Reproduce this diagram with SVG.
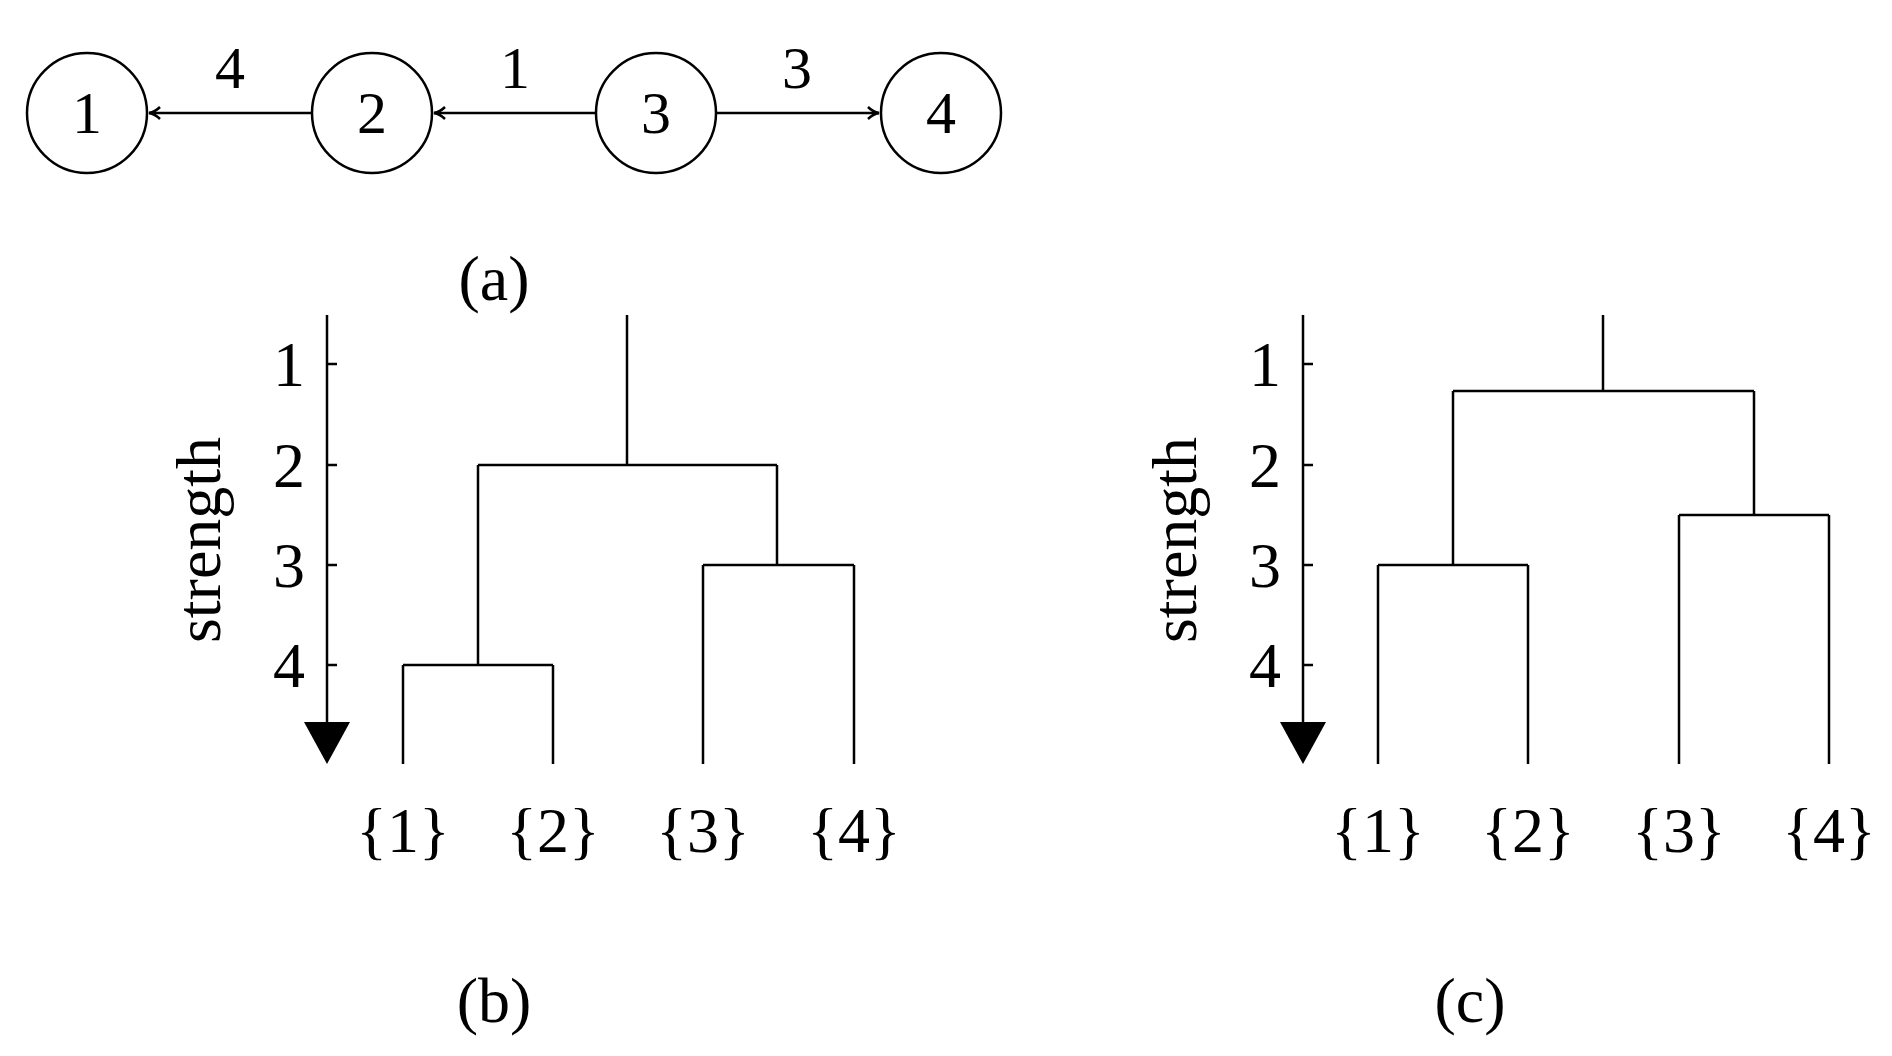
<svg xmlns="http://www.w3.org/2000/svg" width="1892" height="1056" viewBox="0 0 1892 1056">
<style>
text{font-family:"Liberation Serif",serif;fill:#000;text-anchor:middle}
.n{font-size:60px}
.l{font-size:64px}
.c{fill:#fff;stroke:#000;stroke-width:2.5}
.e{stroke:#000;stroke-width:2.5;fill:none}
</style>
<defs>
<marker id="a" markerWidth="14" markerHeight="14" refX="12" refY="7" orient="auto" markerUnits="userSpaceOnUse">
<path d="M1,1 Q6,6 12,7 Q6,8 1,13" fill="none" stroke="#000" stroke-width="2.5"/>
</marker>
</defs>
<rect width="1892" height="1056" fill="#fff"/>
<g id="edges">
<line class="e" x1="312" y1="113" x2="149" y2="113" marker-end="url(#a)"/>
<line class="e" x1="596" y1="113" x2="434" y2="113" marker-end="url(#a)"/>
<line class="e" x1="716" y1="113" x2="879" y2="113" marker-end="url(#a)"/>
<text class="n" x="230" y="88">4</text>
<text class="n" x="515" y="88">1</text>
<text class="n" x="797" y="88">3</text>
</g>
<g id="n1"><circle class="c" cx="87" cy="113" r="60"/><text class="n" x="87" y="133">1</text></g>
<g id="n2"><circle class="c" cx="372" cy="113" r="60"/><text class="n" x="372" y="133">2</text></g>
<g id="n3"><circle class="c" cx="656" cy="113" r="60"/><text class="n" x="656" y="133">3</text></g>
<g id="n4"><circle class="c" cx="941" cy="113" r="60"/><text class="n" x="941" y="133">4</text></g>
<text class="l" x="494" y="300">(a)</text>
<g id="axisB">
<line class="e" x1="327" y1="315" x2="327" y2="725"/>
<path d="M304,722 L350,722 L327,764 Z"/>
<path class="e" d="M327,364h10M327,465h10M327,565h10M327,665h10"/>
<text class="l" x="289" y="386">1</text><text class="l" x="289" y="487">2</text><text class="l" x="289" y="587">3</text><text class="l" x="289" y="687">4</text>
<text class="l" transform="translate(220,540) rotate(-90)">strength</text>
</g>
<g id="dendroB">
<path class="e" d="M627,315V465M478,465H777M478,465V665M403,665H553M403,665V764M553,665V764M777,465V565M703,565H854M703,565V764M854,565V764"/>
<text class="l" x="403" y="852">{1}</text><text class="l" x="553" y="852">{2}</text><text class="l" x="703" y="852">{3}</text><text class="l" x="854" y="852">{4}</text>
</g>
<text class="l" x="494" y="1022">(b)</text>
<g id="axisC">
<line class="e" x1="1303" y1="315" x2="1303" y2="725"/>
<path d="M1280,722 L1326,722 L1303,764 Z"/>
<path class="e" d="M1303,364h10M1303,465h10M1303,565h10M1303,665h10"/>
<text class="l" x="1265" y="386">1</text><text class="l" x="1265" y="487">2</text><text class="l" x="1265" y="587">3</text><text class="l" x="1265" y="687">4</text>
<text class="l" transform="translate(1196,540) rotate(-90)">strength</text>
</g>
<g id="dendroC">
<path class="e" d="M1603,315V391M1453,391H1754M1453,391V565M1378,565H1528M1378,565V764M1528,565V764M1754,391V515M1679,515H1829M1679,515V764M1829,515V764"/>
<text class="l" x="1378" y="852">{1}</text><text class="l" x="1528" y="852">{2}</text><text class="l" x="1679" y="852">{3}</text><text class="l" x="1829" y="852">{4}</text>
</g>
<text class="l" x="1470" y="1022">(c)</text>
</svg>
